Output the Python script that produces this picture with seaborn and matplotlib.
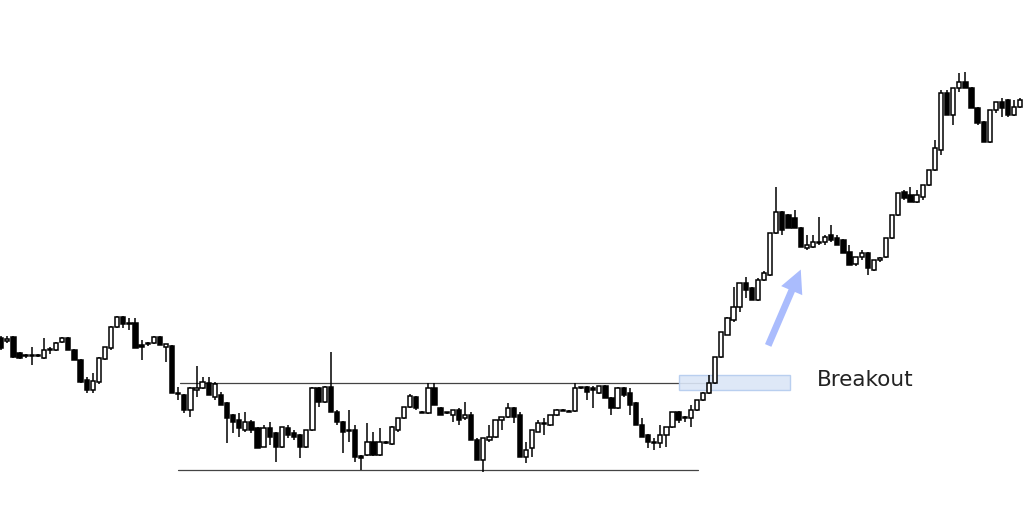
import numpy as np
import pandas as pd
import matplotlib
matplotlib.use("Agg")
import matplotlib.pyplot as plt
import seaborn as sns
from matplotlib.patches import Rectangle, FancyArrowPatch

# candle values (price units)
opens = [162, 159, 163, 147, 144, 145, 144, 142, 150, 150, 158, 162, 150, 140, 120, 110, 118, 141, 152, 173,
         183, 177, 177, 155, 156, 157, 163, 153, 154, 107, 105, 90, 110, 112, 117, 103, 105, 97, 85, 80,
         70, 78, 72, 53, 72, 67, 53, 72, 67, 65, 53, 70, 112, 98, 113, 88, 78, 70, 70, 44,
         45, 58, 45, 58, 56, 70, 82, 93, 103, 88, 87, 112, 92, 87, 85, 90, 82, 85, 60, 40,
         60, 63, 80, 83, 92, 85, 43, 52, 68, 77, 75, 85, 90, 89, 89, 112, 113, 112, 107, 114,
         102, 92, 112, 107, 97, 75, 65, 58, 57, 65, 73, 88, 82, 82, 90, 100, 107, 117, 143, 165,
         180, 193, 217, 212, 200, 220, 225, 267, 288, 285, 282, 272, 252, 253, 257, 258, 265, 262, 260, 248,
         236, 243, 247, 230, 240, 243, 262, 285, 308, 305, 298, 303, 315, 330, 350, 407, 385, 412, 418, 412,
         392, 378, 358, 390, 398, 400, 385, 393]
highs = [164, 164, 164, 148, 146, 153, 146, 162, 153, 158, 163, 163, 151, 141, 123, 127, 143, 153, 174, 184,
         184, 182, 182, 160, 158, 164, 164, 156, 155, 113, 106, 113, 134, 123, 123, 118, 108, 98, 86, 87,
         88, 80, 73, 75, 78, 68, 73, 75, 70, 66, 70, 113, 113, 114, 148, 90, 79, 90, 75, 45,
         77, 68, 72, 59, 74, 82, 93, 106, 104, 89, 117, 117, 93, 88, 90, 92, 98, 88, 62, 62,
         75, 80, 83, 97, 93, 88, 58, 70, 80, 82, 85, 91, 91, 90, 117, 113, 114, 114, 114, 115,
         103, 113, 113, 112, 98, 82, 66, 62, 75, 73, 88, 89, 84, 95, 100, 108, 125, 143, 168, 183,
         213, 217, 223, 213, 222, 229, 267, 313, 289, 286, 290, 273, 265, 265, 283, 265, 275, 265, 261, 255,
         243, 250, 248, 240, 243, 262, 285, 307, 310, 313, 310, 315, 330, 360, 410, 410, 412, 427, 428, 413,
         393, 379, 390, 398, 402, 401, 400, 402]
lows = [150, 157, 142, 141, 142, 135, 143, 141, 146, 149, 157, 150, 140, 117, 107, 107, 116, 140, 150, 172,
        172, 170, 152, 140, 154, 156, 155, 138, 107, 100, 87, 83, 103, 111, 105, 100, 95, 57, 67, 63,
        68, 67, 52, 53, 55, 38, 52, 62, 60, 42, 52, 69, 93, 97, 88, 75, 47, 58, 38, 30,
        44, 44, 44, 56, 55, 68, 81, 92, 90, 87, 86, 95, 85, 86, 78, 75, 80, 60, 40, 28,
        58, 62, 70, 82, 77, 43, 37, 43, 68, 65, 74, 84, 89, 88, 88, 111, 100, 92, 106, 102,
        85, 91, 103, 85, 75, 63, 52, 50, 52, 53, 72, 77, 78, 73, 89, 99, 106, 116, 142, 165,
        178, 188, 202, 200, 199, 219, 224, 266, 265, 272, 272, 253, 250, 252, 255, 255, 258, 255, 247, 235,
        234, 240, 225, 229, 238, 242, 261, 284, 300, 298, 297, 300, 314, 329, 345, 385, 375, 408, 412, 392,
        375, 358, 357, 387, 383, 383, 384, 392]
closes = [152, 161, 143, 142, 145, 144, 145, 150, 151, 157, 162, 150, 140, 118, 110, 119, 142, 153, 173, 183,
          176, 176, 152, 153, 157, 163, 155, 156, 107, 106, 90, 112, 112, 118, 105, 116, 95, 82, 78, 72,
          78, 70, 52, 72, 63, 53, 73, 65, 63, 53, 70, 112, 98, 113, 88, 78, 68, 69, 43, 42,
          58, 45, 58, 57, 73, 82, 93, 104, 92, 87, 112, 95, 85, 87, 90, 80, 85, 60, 40, 62,
          63, 80, 83, 92, 83, 43, 50, 70, 77, 76, 85, 90, 89, 88, 112, 112, 108, 110, 114, 102,
          92, 112, 105, 95, 75, 63, 58, 57, 65, 73, 88, 80, 82, 90, 100, 107, 117, 143, 168, 182,
          193, 217, 210, 200, 220, 227, 267, 288, 270, 272, 272, 253, 255, 258, 258, 263, 260, 255, 247, 235,
          243, 247, 232, 240, 242, 262, 285, 307, 302, 298, 305, 315, 330, 352, 407, 385, 412, 418, 412, 392,
          377, 358, 390, 398, 392, 385, 393, 400]

# horizontal range levels
resistance = 117
support = 30

df = pd.DataFrame({"open": opens, "high": highs, "low": lows, "close": closes})
df["idx"] = np.arange(len(df))
up = df["close"] >= df["open"]

sns.set_theme(style="white")
fig, ax = plt.subplots(figsize=(10.24, 5.29), dpi=100)
fig.subplots_adjust(left=0, right=1, bottom=0, top=1)

# support / resistance lines
levels = pd.DataFrame({
    "x": [29.3, 116.2, 29.0, 114.1],
    "y": [resistance, resistance, support, support],
    "line": ["res", "res", "sup", "sup"],
})
sns.lineplot(data=levels, x="x", y="y", units="line", estimator=None,
             color="#444444", lw=0.9, ax=ax, legend=False)

# breakout zone
ax.add_patch(Rectangle((111.0, 110), 18.3, 15, facecolor="#dbe6f7",
                       edgecolor="#b4cbee", lw=1, alpha=0.9, zorder=4))

# wicks
ax.vlines(df["idx"], df["low"], df["high"], color="black", lw=1.1, zorder=5)

# bodies
w = 0.7
body_lo = np.minimum(df["open"], df["close"])
body_h = np.maximum(np.abs(df["close"] - df["open"]), 1.0)
ax.bar(df["idx"][up], body_h[up], bottom=body_lo[up], width=w,
       color="white", edgecolor="black", lw=1.1, zorder=6)
ax.bar(df["idx"][~up], body_h[~up], bottom=body_lo[~up], width=w,
       color="black", edgecolor="black", lw=1.1, zorder=6)

# arrow and label
arrow = FancyArrowPatch((125.5, 152), (131.2, 233),
                        arrowstyle="simple,head_width=1.5,head_length=1.5,tail_width=0.45",
                        mutation_scale=11, color="#aabcfd", lw=0, zorder=7)
ax.add_patch(arrow)
ax.text(133.6, 120, "Breakout", fontsize=15.5, color="#222222",
        va="center", ha="left", family="DejaVu Sans")

ax.set_xlim(-0.2, 167.6)
ax.set_ylim(-29, 500)
ax.set_xlabel("")
ax.set_ylabel("")
ax.set_xticks([])
ax.set_yticks([])
sns.despine(ax=ax, left=True, bottom=True)

fig.savefig("out.png", dpi=100, facecolor="white")
